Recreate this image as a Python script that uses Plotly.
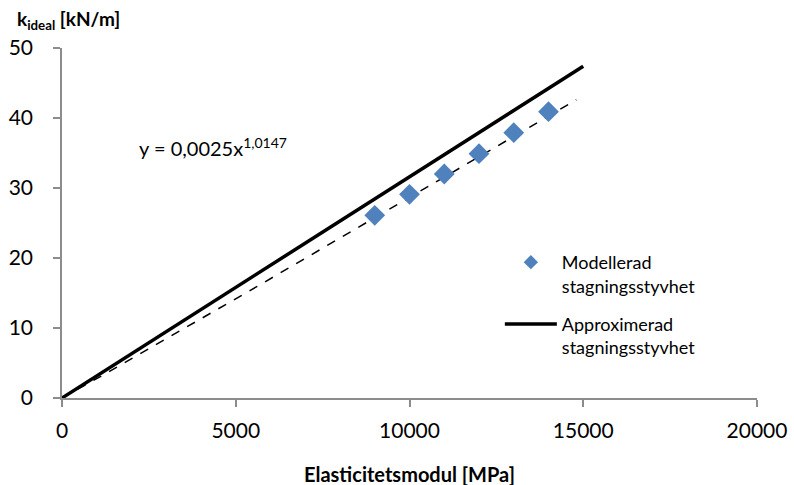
import numpy as np
import plotly.graph_objects as go

# Modelled bracing stiffness versus modulus of elasticity
E_model = [9000, 10000, 11000, 12000, 13000, 14000]
k_model = [26.1, 29.1, 32.0, 34.9, 37.9, 40.9]

# Approximated stiffness (straight line)
E_approx = [0, 15000]
k_approx = [0, 47.4]

# Power trendline y = a * x^b
coef_a = 0.0025
coef_b = 1.0147
trend_x = np.linspace(0, 14800, 200)
trend_y = coef_a * trend_x ** coef_b

x_ticks = [0, 5000, 10000, 15000, 20000]
y_ticks = [0, 10, 20, 30, 40, 50]

FONT = "Lato"
AXIS_GREY = "#8c8c8c"
BLUE = "#4F81BD"
NAME_MODEL = "Modellerad<br>stagningsstyvhet"
NAME_APPROX = "Approximerad<br>stagningsstyvhet"

fig = go.Figure()

fig.add_trace(go.Scatter(
    x=trend_x, y=trend_y, mode="lines",
    line=dict(color="black", width=1.5, dash="dash"),
    showlegend=False, hoverinfo="skip",
))
fig.add_trace(go.Scatter(
    x=E_model, y=k_model, mode="markers",
    name=NAME_MODEL, showlegend=False,
    marker=dict(symbol="diamond", size=16, color=BLUE),
))
# legend entry with a smaller symbol
fig.add_trace(go.Scatter(
    x=[None], y=[None], mode="markers",
    name=NAME_MODEL, legendgroup="a",
    marker=dict(symbol="diamond", size=11, color=BLUE),
))
fig.add_trace(go.Scatter(
    x=E_approx, y=k_approx, mode="lines",
    name=NAME_APPROX, legendgroup="b",
    line=dict(color="black", width=3.5),
))

fig.update_layout(
    width=794, height=485,
    margin=dict(l=62, r=37, t=48, b=87, autoexpand=False),
    plot_bgcolor="white", paper_bgcolor="white",
    font=dict(family=FONT, size=19, color="black"),
    legend=dict(
        x=0.63, y=0.44, xanchor="left", yanchor="top",
        font=dict(family=FONT, size=18),
        itemwidth=52, traceorder="grouped", tracegroupgap=12,
        valign="top", bgcolor="rgba(0,0,0,0)",
    ),
    xaxis=dict(
        range=[0, 20000], tickvals=x_ticks, automargin=False,
        showgrid=False, zeroline=False,
        showline=True, linecolor=AXIS_GREY, linewidth=1.5,
        ticks="outside", ticklen=7, tickcolor=AXIS_GREY, tickwidth=1.5,
        tickfont=dict(size=21), tickformat="d", ticklabelstandoff=6,
    ),
    yaxis=dict(
        range=[0, 50], tickvals=y_ticks, automargin=False,
        showgrid=False, zeroline=False,
        showline=True, linecolor=AXIS_GREY, linewidth=1.5,
        ticks="outside", ticklen=7, tickcolor=AXIS_GREY, tickwidth=1.5,
        tickfont=dict(size=21), ticklabelstandoff=16,
    ),
    annotations=[
        dict(text="<b>k<sub>ideal</sub> [kN/m]</b>", xref="paper", yref="paper",
             x=-47 / 695, y=1 + 28 / 350,
             xanchor="left", yanchor="middle", showarrow=False,
             font=dict(family=FONT, size=19)),
        dict(text="<b>Elasticitetsmodul [MPa]</b>", xref="paper", yref="paper",
             x=(410 - 62) / 695, y=-76 / 350, xanchor="center", yanchor="middle",
             showarrow=False, font=dict(family=FONT, size=20)),
        dict(text=f"y = {str(coef_a).replace('.', ',')}x<sup>{str(coef_b).replace('.', ',')}</sup>",
             x=2150, y=35.8, xanchor="left", yanchor="middle",
             showarrow=False, font=dict(family=FONT, size=20)),
    ],
)

fig.write_html("out.html")
